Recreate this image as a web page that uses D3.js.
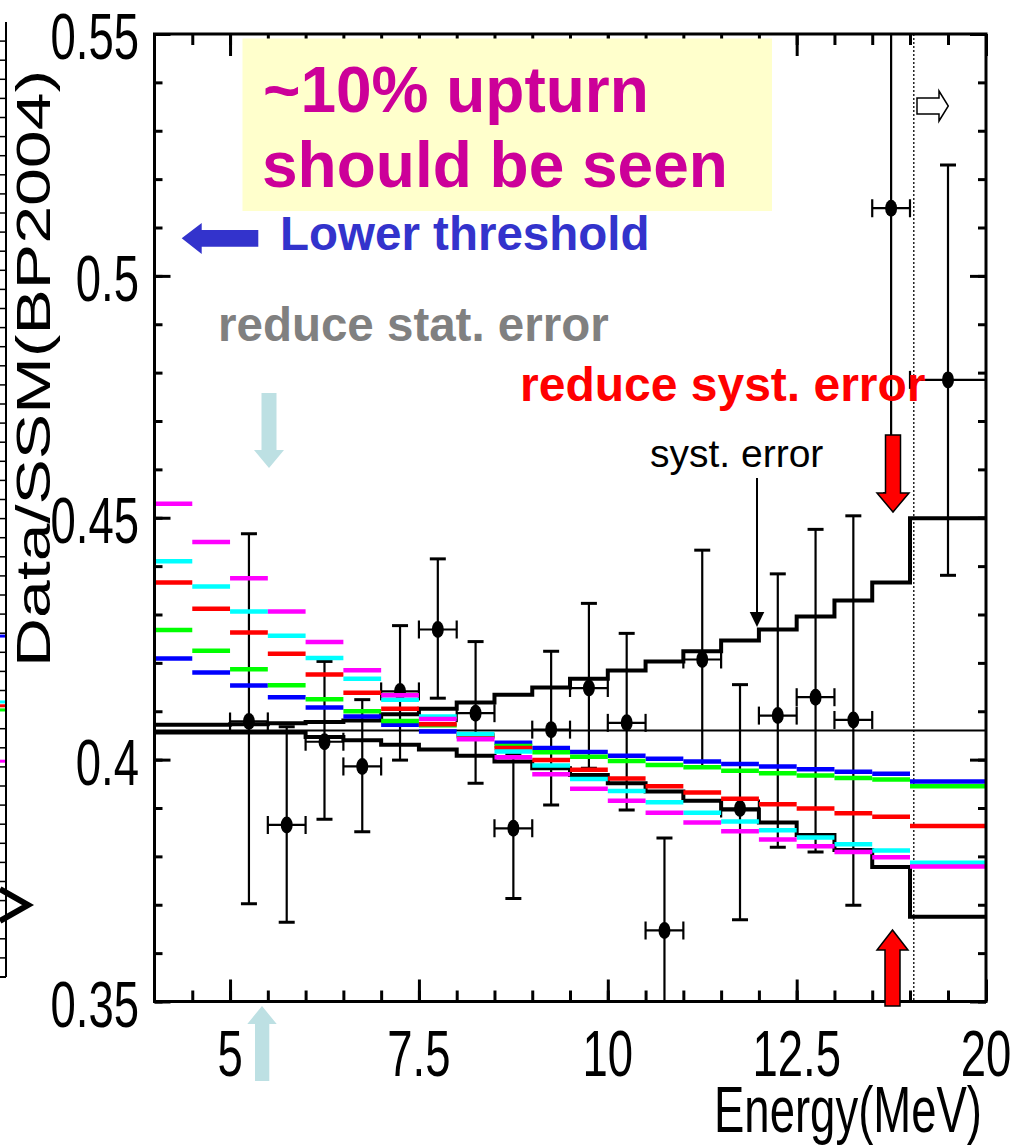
<!DOCTYPE html>
<html>
<head>
<meta charset="utf-8">
<script src="https://cdn.jsdelivr.net/npm/d3@7"></script>
<style>
  html, body { margin: 0; padding: 0; background: #fff; }
  svg { display: block; }
  text { font-family: "Liberation Sans", Arial, Helvetica, sans-serif; }
</style>
</head>
<body>
<svg id="chart" width="1014" height="1147"></svg>
<script>
// ---- Energy bins (MeV): 0.5 MeV bins from 4 to 14, then one wide 14-20 bin ----
const binLow  = [4.0, 4.5, 5.0, 5.5, 6.0, 6.5, 7.0, 7.5, 8.0, 8.5, 9.0, 9.5, 10.0, 10.5, 11.0, 11.5, 12.0, 12.5, 13.0, 13.5, 14.0];
const binHigh = [4.5, 5.0, 5.5, 6.0, 6.5, 7.0, 7.5, 8.0, 8.5, 9.0, 9.5, 10.0, 10.5, 11.0, 11.5, 12.0, 12.5, 13.0, 13.5, 14.0, 20.0];

// ---- Expected spectra (Data/SSM) for the five oscillation scenarios ----
const specBlue    = [0.4209, 0.4180, 0.4153, 0.4129, 0.4108, 0.4089, 0.4072, 0.4058, 0.4048, 0.4035, 0.4024, 0.4016, 0.4008, 0.4002, 0.3996, 0.3991, 0.3986, 0.3980, 0.3975, 0.3971, 0.3955];
const specGreen   = [0.4268, 0.4225, 0.4187, 0.4154, 0.4125, 0.4100, 0.4080, 0.4071, 0.4050, 0.4028, 0.4015, 0.4006, 0.3997, 0.3989, 0.3984, 0.3977, 0.3972, 0.3967, 0.3962, 0.3959, 0.3945];
const specRed     = [0.4366, 0.4312, 0.4263, 0.4219, 0.4176, 0.4138, 0.4105, 0.4073, 0.4051, 0.4024, 0.3999, 0.3979, 0.3961, 0.3945, 0.3932, 0.3919, 0.3908, 0.3899, 0.3889, 0.3882, 0.3863];
const specCyan    = [0.4410, 0.4358, 0.4306, 0.4256, 0.4210, 0.4167, 0.4124, 0.4089, 0.4053, 0.4017, 0.3988, 0.3960, 0.3935, 0.3912, 0.3890, 0.3872, 0.3854, 0.3839, 0.3825, 0.3812, 0.3787];
const specMagenta = [0.4529, 0.4450, 0.4375, 0.4306, 0.4243, 0.4185, 0.4133, 0.4084, 0.4042, 0.4005, 0.3970, 0.3940, 0.3915, 0.3890, 0.3870, 0.3852, 0.3835, 0.3821, 0.3809, 0.3798, 0.3779];
const specColors  = ["#0000ff", "#00ff00", "#ff0000", "#00ffff", "#ff00ff"];

// ---- Systematic error band around the flat average ----
const systUpper = [0.4072, 0.4072, 0.4073, 0.4075, 0.4078, 0.4081, 0.4094, 0.4105, 0.4118, 0.4134, 0.4149, 0.4167, 0.4184, 0.4203, 0.4224, 0.4246, 0.4269, 0.4296, 0.4329, 0.4366, 0.4499];
const systLower = [0.4056, 0.4056, 0.4056, 0.4056, 0.4047, 0.4040, 0.4031, 0.4021, 0.4008, 0.3996, 0.3982, 0.3968, 0.3951, 0.3934, 0.3915, 0.3897, 0.3870, 0.3844, 0.3813, 0.3778, 0.3675];
const flatAverage = 0.406;

// ---- Measured points ----
const dataE    = [5.25, 5.75, 6.25, 6.75, 7.25, 7.75, 8.25, 8.75, 9.25, 9.75, 10.25, 10.75, 11.25, 11.75, 12.25, 12.75, 13.25, 13.75, 17.0];
const dataELo  = [5.0, 5.5, 6.0, 6.5, 7.0, 7.5, 8.0, 8.5, 9.0, 9.5, 10.0, 10.5, 11.0, 11.5, 12.0, 12.5, 13.0, 13.5, 14.0];
const dataEHi  = [5.5, 6.0, 6.5, 7.0, 7.5, 8.0, 8.5, 9.0, 9.5, 10.0, 10.5, 11.0, 11.5, 12.0, 12.5, 13.0, 13.5, 14.0, 20.0];
const dataVal  = [0.4079, 0.3865, 0.4037, 0.3986, 0.4141, 0.4269, 0.4096, 0.3858, 0.4062, 0.4148, 0.4076, 0.3647, 0.4207, 0.3899, 0.4091, 0.4129, 0.4082, 0.5140, 0.4785];
const dataHi   = [0.4467, 0.4068, 0.4203, 0.4124, 0.4277, 0.4415, 0.4244, 0.4010, 0.4224, 0.4323, 0.4261, 0.3838, 0.4433, 0.4155, 0.4384, 0.4476, 0.4504, 0.5780, 0.5229];
const dataLo   = [0.3702, 0.3664, 0.3877, 0.3851, 0.3999, 0.4127, 0.3951, 0.3713, 0.3906, 0.3982, 0.3896, 0.3456, 0.3986, 0.3669, 0.3819, 0.3809, 0.3699, 0.4550, 0.4381];

// ---- Axis ticks ----
const xTickValues = [4.5, 5, 5.5, 6, 6.5, 7, 7.5, 8, 8.5, 9, 9.5, 10, 10.5, 11, 11.5, 12, 12.5, 13, 13.5, 14, 17];
const xMajorTicks = [5, 7.5, 10, 12.5, 20];
const xTickLabels = ["5", "7.5", "10", "12.5", "20"];
const yMajorTicks = [0.35, 0.40, 0.45, 0.50, 0.55];
const yTickLabels = ["0.35", "0.4", "0.45", "0.5", "0.55"];

const svg = d3.select("#chart");

// Piecewise energy axis: uniform 0.5 MeV bins, last bin compressed
const x = d3.scaleLinear().domain([4, 14, 20]).range([154.5, 910, 986]);
const y = d3.scaleLinear().domain([0.35, 0.55]).range([1001.5, 34]);
const [X0, X1] = [x(4), x(20)];
const [Y0, Y1] = [y(0.55), y(0.35)];

svg.append("defs").append("clipPath").attr("id", "plotClip")
  .append("rect").attr("x", X0).attr("y", Y0).attr("width", X1 - X0).attr("height", Y1 - Y0);

// ---- Neighbouring panel edge on the far left ----
const nb = svg.append("g");
const nbY = d3.scaleLinear().domain([0, 50]).range([977, 22]);
nb.append("line").attr("x1", 6).attr("x2", 6).attr("y1", nbY(50)).attr("y2", nbY(0))
  .attr("stroke", "#000").attr("stroke-width", 2);
nb.append("line").attr("x1", 0).attr("x2", 6).attr("y1", nbY(0)).attr("y2", nbY(0))
  .attr("stroke", "#000").attr("stroke-width", 2);
nb.selectAll("line.t").data(d3.range(1, 50)).join("line").attr("class", "t")
  .attr("x1", 0).attr("x2", 6).attr("y1", d => nbY(d)).attr("y2", d => nbY(d))
  .attr("stroke", "#000").attr("stroke-width", 1.5);
const nbEnds = [{v: 17.85, c: "#0000ff"}, {v: 14.4, c: "#00ffff"}, {v: 14.2, c: "#ff0000"}, {v: 13.98, c: "#00ff00"}, {v: 11.3, c: "#ff00ff"}];
nb.selectAll("line.e").data(nbEnds).join("line").attr("class", "e")
  .attr("x1", 0).attr("x2", 5).attr("y1", d => nbY(d.v)).attr("y2", d => nbY(d.v))
  .attr("stroke", d => d.c).attr("stroke-width", 3);
nb.append("path")
  .attr("d", `M0,${nbY(3.77) - 16} L28,${nbY(3.77)} L0,${nbY(3.77) + 16}`)
  .attr("fill", "none").attr("stroke", "#000").attr("stroke-width", 6);

// ---- Axes ticks (drawn inward on all four sides) ----
function tickAxis(axis, transform) {
  const g = svg.append("g").attr("transform", transform).call(axis);
  g.select(".domain").remove();
  g.selectAll(".tick line").attr("stroke", "#000").attr("stroke-width", 3);
  g.selectAll(".tick text").remove();
  return g;
}
const yMinor = y.ticks(20);
tickAxis(d3.axisLeft(y).tickValues(yMinor).tickSize(-8), `translate(${X0},0)`);
tickAxis(d3.axisLeft(y).tickValues(yMajorTicks).tickSize(-16), `translate(${X0},0)`);
tickAxis(d3.axisRight(y).tickValues(yMinor).tickSize(-8), `translate(${X1},0)`);
tickAxis(d3.axisRight(y).tickValues(yMajorTicks).tickSize(-16), `translate(${X1},0)`);
tickAxis(d3.axisBottom(x).tickValues(xTickValues).tickSize(-11), `translate(0,${Y1})`);
tickAxis(d3.axisBottom(x).tickValues(xMajorTicks).tickSize(-22), `translate(0,${Y1})`);
tickAxis(d3.axisTop(x).tickValues(xTickValues).tickSize(-11), `translate(0,${Y0})`);
tickAxis(d3.axisTop(x).tickValues(xMajorTicks).tickSize(-22), `translate(0,${Y0})`);

// ---- Tick labels and axis titles (condensed Helvetica look) ----
const SX = 0.7;
svg.append("g").selectAll("g").data(yMajorTicks).join("g")
  .attr("transform", d => `translate(139,${y(d) + 25}) scale(${SX},1)`)
  .append("text").attr("text-anchor", "end").attr("font-size", 65)
  .text((d, i) => yTickLabels[i]);
svg.append("g").selectAll("g").data(xMajorTicks).join("g")
  .attr("transform", d => `translate(${x(d)},1076) scale(${SX},1)`)
  .append("text").attr("text-anchor", "middle").attr("font-size", 65)
  .text((d, i) => xTickLabels[i]);
svg.append("g").attr("transform", `translate(982,1131.5) scale(${SX},1)`)
  .append("text").attr("text-anchor", "end").attr("font-size", 65).text("Energy(MeV)");
svg.append("g").attr("transform", `translate(50,667) scale(${SX},1) rotate(-90)`)
  .append("text").attr("text-anchor", "start").attr("font-size", 68).text("Data/SSM(BP2004)");

// ---- Plot contents ----
const plot = svg.append("g").attr("clip-path", "url(#plotClip)");

// flat average line
plot.append("line").attr("x1", X0).attr("x2", X1)
  .attr("y1", y(flatAverage)).attr("y2", y(flatAverage))
  .attr("stroke", "#000").attr("stroke-width", 2);

// dotted boundary of the wide last bin
plot.append("line").attr("x1", x(14.3)).attr("x2", x(14.3)).attr("y1", Y0).attr("y2", Y1)
  .attr("stroke", "#000").attr("stroke-width", 1.3).attr("stroke-dasharray", "2,2");

// systematic error histograms
const step = d3.line().x(d => x(d[0])).y(d => y(d[1])).curve(d3.curveStepAfter);
[systUpper, systLower].forEach(vals => {
  const pts = vals.map((v, i) => [binLow[i], v]);
  pts.push([binHigh[binHigh.length - 1], vals[vals.length - 1]]);
  plot.append("path").datum(pts).attr("d", step)
    .attr("fill", "none").attr("stroke", "#000").attr("stroke-width", 4);
});

// measured points with errors
const pts = dataE.map((e, i) => ({e, lo: dataELo[i], hi: dataEHi[i], v: dataVal[i], vh: dataHi[i], vl: dataLo[i]}));
const pg = plot.append("g").attr("stroke", "#000").attr("stroke-width", 2.2);
pg.selectAll("line.v").data(pts).join("line").attr("class", "v")
  .attr("x1", d => x(d.e)).attr("x2", d => x(d.e)).attr("y1", d => y(d.vh)).attr("y2", d => y(d.vl));
pg.selectAll("line.h").data(pts).join("line").attr("class", "h")
  .attr("x1", d => x(d.lo)).attr("x2", d => x(d.hi)).attr("y1", d => y(d.v)).attr("y2", d => y(d.v));
pg.selectAll("line.ct").data(pts).join("line").attr("class", "ct")
  .attr("x1", d => x(d.e) - 8).attr("x2", d => x(d.e) + 8).attr("y1", d => y(d.vh)).attr("y2", d => y(d.vh)).attr("stroke-width", 3);
pg.selectAll("line.cb").data(pts).join("line").attr("class", "cb")
  .attr("x1", d => x(d.e) - 8).attr("x2", d => x(d.e) + 8).attr("y1", d => y(d.vl)).attr("y2", d => y(d.vl)).attr("stroke-width", 3);
pg.selectAll("line.cl").data(pts).join("line").attr("class", "cl")
  .attr("x1", d => x(d.lo)).attr("x2", d => x(d.lo)).attr("y1", d => y(d.v) - 9).attr("y2", d => y(d.v) + 9);
pg.selectAll("line.cr").data(pts).join("line").attr("class", "cr")
  .attr("x1", d => x(d.hi)).attr("x2", d => x(d.hi)).attr("y1", d => y(d.v) - 9).attr("y2", d => y(d.v) + 9);
pg.selectAll("ellipse").data(pts).join("ellipse")
  .attr("cx", d => x(d.e)).attr("cy", d => y(d.v)).attr("rx", 6).attr("ry", 8.5)
  .attr("fill", "#000").attr("stroke", "none");

// expected spectra, one short bar per bin
[specBlue, specGreen, specRed, specCyan, specMagenta].forEach((vals, k) => {
  plot.append("g").selectAll("line").data(vals).join("line")
    .attr("x1", (d, i) => x(binLow[i])).attr("x2", (d, i) => x(binHigh[i]))
    .attr("y1", d => y(d)).attr("y2", d => y(d))
    .attr("stroke", specColors[k]).attr("stroke-width", 4.5);
});

// ---- Frame ----
svg.append("rect").attr("x", X0).attr("y", Y0).attr("width", X1 - X0).attr("height", Y1 - Y0)
  .attr("fill", "none").attr("stroke", "#000").attr("stroke-width", 3);

// ---- Annotations ----
const ann = svg.append("g");
ann.append("rect").attr("x", 242.5).attr("y", 38.5).attr("width", 529.5).attr("height", 172.5).attr("fill", "#ffffcc");
ann.append("text").attr("x", 263).attr("y", 111.5).attr("font-size", 64).attr("font-weight", "bold")
  .attr("fill", "#cc0099").text("~10% upturn");
ann.append("text").attr("x", 262).attr("y", 186.5).attr("font-size", 64).attr("font-weight", "bold")
  .attr("fill", "#cc0099").text("should be seen");

// lower threshold arrow + label
ann.append("path").attr("d", "M181.7,238.3 L201.7,223 L201.7,230 L258.3,230 L258.3,246.7 L201.7,246.7 L201.7,254 Z").attr("fill", "#3333cc");
ann.append("text").attr("x", 280).attr("y", 250).attr("font-size", 47.5).attr("font-weight", "bold")
  .attr("fill", "#3333cc").text("Lower threshold");

// statistical error
ann.append("text").attr("x", 218).attr("y", 341).attr("font-size", 47.5).attr("font-weight", "bold")
  .attr("fill", "#808080").text("reduce stat. error");
const cyanArrow = "#bde0e3";
ann.append("path").attr("d", "M261.5,393 L276.5,393 L276.5,450 L284,450 L269,468 L254,450 L261.5,450 Z").attr("fill", cyanArrow);
ann.append("path").attr("d", "M262,1006 L276.7,1024 L269.3,1024 L269.3,1081 L255,1081 L255,1024 L247.3,1024 Z").attr("fill", cyanArrow);

// systematic error
ann.append("text").attr("x", 520).attr("y", 401).attr("font-size", 48).attr("font-weight", "bold")
  .attr("fill", "#ff0000").text("reduce syst. error");
ann.append("text").attr("x", 650).attr("y", 467).attr("font-size", 39).attr("fill", "#000").text("syst. error");
ann.append("line").attr("x1", 757).attr("x2", 757).attr("y1", 478).attr("y2", 614).attr("stroke", "#000").attr("stroke-width", 2);
ann.append("path").attr("d", "M749.7,612 L764.3,612 L757,627 Z").attr("fill", "#000");
ann.append("path").attr("d", "M885.5,435 L900.5,435 L900.5,493 L909,493 L893,512 L877,493 L885.5,493 Z")
  .attr("fill", "#ff0000").attr("stroke", "#000").attr("stroke-width", 1.5);
ann.append("path").attr("d", "M892.5,930 L908,950 L900,950 L900,1006 L885,1006 L885,950 L877,950 Z")
  .attr("fill", "#ff0000").attr("stroke", "#000").attr("stroke-width", 1.5);

// open arrow marking the wide last bin
ann.append("path").attr("d", "M917,98 L939,98 L939,91 L948.3,106 L939,121 L939,114 L917,114 Z")
  .attr("fill", "#fff").attr("stroke", "#000").attr("stroke-width", 1.5);
</script>
</body>
</html>
